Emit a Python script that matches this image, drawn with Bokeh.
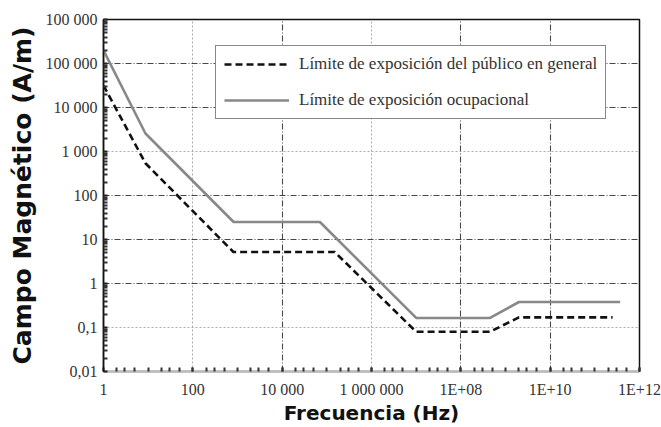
from bokeh.plotting import figure
from bokeh.models import FixedTicker, Grid, Legend, LegendItem
from bokeh.embed import file_html
from bokeh.resources import INLINE

# Data (breakpoints of the limit curves)
freq_public = [1, 8.7, 810, 1.5e5, 1.0e7, 4.5e8, 2.0e9, 2.5e11]
h_public = [31600, 540, 5.2, 5.2, 0.08, 0.08, 0.17, 0.17]

freq_occ = [1, 8.7, 820, 7.0e4, 1.0e7, 4.5e8, 2.0e9, 3.7e11]
h_occ = [200000, 2570, 25, 25, 0.165, 0.165, 0.38, 0.38]

legend_public = "Límite de exposición del público en general"
legend_occ = "Límite de exposición ocupacional"

x_ticks = [1, 1e2, 1e4, 1e6, 1e8, 1e10, 1e12]
x_tick_labels = ["1", "100", "10 000", "1 000 000", "1E+08", "1E+10", "1E+12"]
y_ticks = [0.01, 0.1, 1, 10, 100, 1e3, 1e4, 1e5, 1e6]
y_tick_labels = ["0,01", "0,1", "1", "10", "100", "1 000", "10 000", "100 000", "100 000"]

x_title = "Frecuencia (Hz)"
y_title = "Campo Magnético (A/m)"

p = figure(width=661, height=427, x_axis_type="log", y_axis_type="log",
           x_range=(1, 1e12), y_range=(0.01, 1e6),
           output_backend="svg", toolbar_location=None,
           min_border_left=103, min_border_right=22, min_border_top=19, min_border_bottom=55)
p.background_fill_color = "white"
p.border_fill_color = "white"
p.outline_line_color = "#111111"
p.outline_line_width = 1.5

# grids
p.xgrid.visible = False
p.ygrid.visible = False
dark = dict(grid_line_color="#333333", grid_line_dash="6 2 1 2", grid_line_width=1.1, grid_line_alpha=0.9)
light = dict(grid_line_color="#999999", grid_line_dash="2 2", grid_line_width=1, grid_line_alpha=0.8)
p.add_layout(Grid(dimension=0, ticker=FixedTicker(ticks=[1e4, 1e8, 1e10]), **dark))
p.add_layout(Grid(dimension=0, ticker=FixedTicker(ticks=[1e2, 1e6]), **light))
p.add_layout(Grid(dimension=1, ticker=FixedTicker(ticks=[1, 10, 100, 1e4, 1e5]), **dark))
p.add_layout(Grid(dimension=1, ticker=FixedTicker(ticks=[0.1, 1e3]), **light))

x_minor = [m * 10.0**k for k in range(0, 12) for m in (2, 3, 5, 10)]
y_minor = [m * 10.0**k for k in range(-2, 6) for m in range(2, 10)]
p.xaxis.ticker = FixedTicker(ticks=x_ticks, minor_ticks=x_minor)
p.yaxis.ticker = FixedTicker(ticks=y_ticks, minor_ticks=y_minor)
p.xaxis.major_label_overrides = {t: l for t, l in zip(x_ticks, x_tick_labels)}
p.yaxis.major_label_overrides = {t: l for t, l in zip(y_ticks, y_tick_labels)}

for ax in (p.xaxis[0], p.yaxis[0]):
    ax.major_tick_in = 4
    ax.major_tick_out = 0
    ax.minor_tick_in = 4
    ax.minor_tick_out = 0
    ax.major_tick_line_width = 2
    ax.minor_tick_line_width = 2
    ax.major_tick_line_color = "#222222"
    ax.minor_tick_line_color = "#333333"
    ax.major_label_text_font = "Liberation Serif"
    ax.major_label_text_font_size = "16px"
    ax.major_label_text_color = "#333333"
    ax.axis_label_text_font = "DejaVu Sans"
    ax.axis_label_text_font_style = "bold"
    ax.axis_label_text_color = "#111111"

p.xaxis.axis_line_color = "#bbbbbb"
p.yaxis.axis_line_color = "#111111"
p.yaxis.axis_line_width = 1.5
p.xaxis.axis_label = x_title
p.yaxis.axis_label = y_title
p.xaxis.axis_label_text_font_size = "20px"
p.yaxis.axis_label_text_font_size = "25px"
p.xaxis.major_label_standoff = 9
p.xaxis.axis_label_standoff = 0
p.yaxis.major_label_standoff = 6
p.yaxis.axis_label_standoff = 6

r_pub = p.line(freq_public, h_public, line_color="#111111", line_width=2.6, line_dash="7 4")
r_occ = p.line(freq_occ, h_occ, line_color="#888888", line_width=2.6)

legend = Legend(items=[LegendItem(label=legend_public, renderers=[r_pub]),
                       LegendItem(label=legend_occ, renderers=[r_occ])],
                location=(112, 252))
legend.label_text_font = "Liberation Serif"
legend.label_text_font_size = "17px"
legend.label_text_color = "#333333"
legend.border_line_color = "#111111"
legend.border_line_width = 1.5
legend.background_fill_alpha = 1
legend.glyph_width = 65
legend.glyph_height = 20
legend.label_height = 20
legend.label_standoff = 10
legend.spacing = 16
legend.padding = 8
legend.margin = 0
p.add_layout(legend)

open("out.html", "w").write(file_html(p, INLINE))
